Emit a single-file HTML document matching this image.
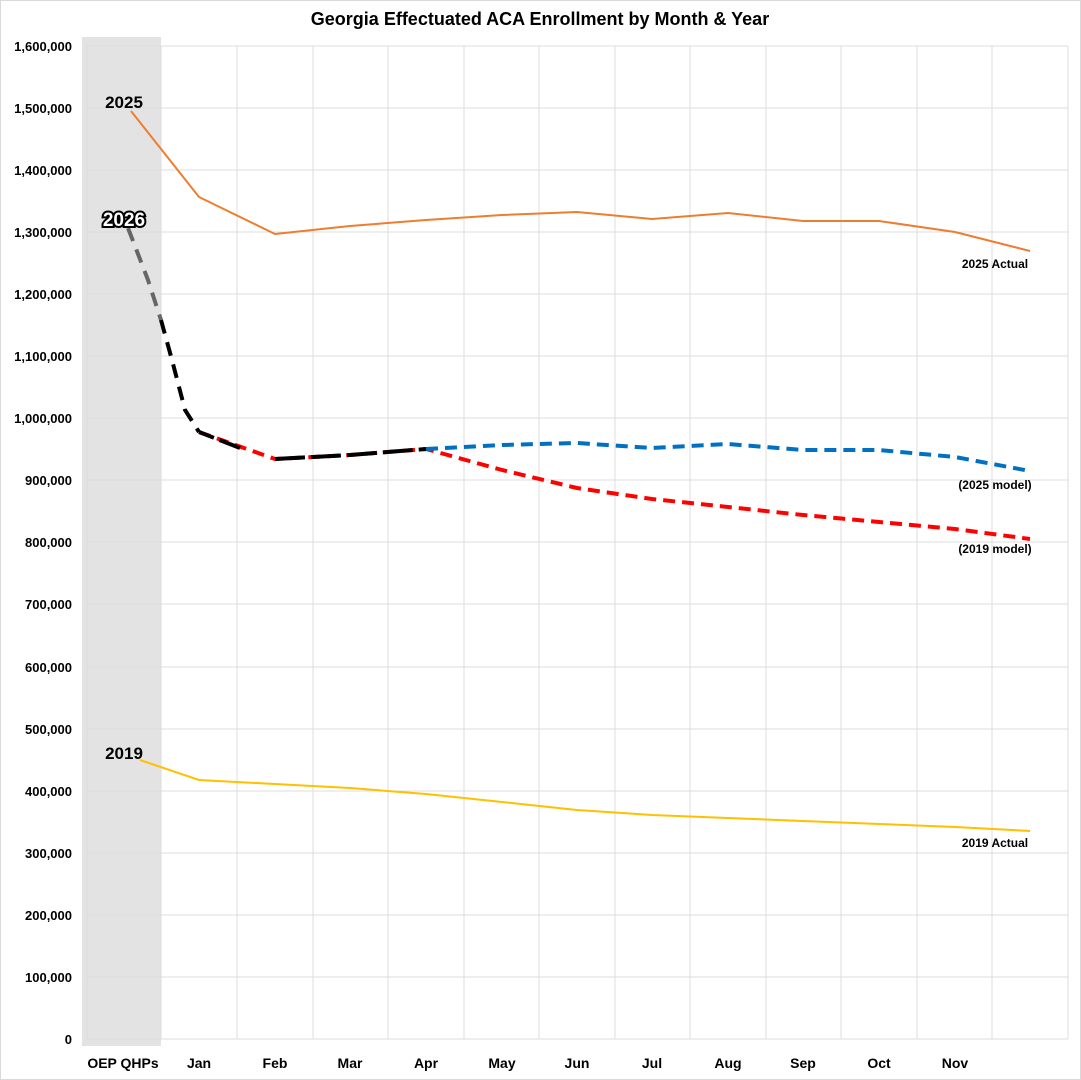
<!DOCTYPE html>
<html><head><meta charset="utf-8"><style>
body{margin:0;background:#fff;}
svg{display:block;font-family:"Liberation Sans",Arial,sans-serif;}
</style></head><body>
<svg width="1081" height="1080" viewBox="0 0 1081 1080">
<rect x="0.5" y="0.5" width="1080" height="1079" fill="#fff" stroke="#d9d9d9"/>
<text x="540" y="25" text-anchor="middle" font-size="18" font-weight="bold">Georgia Effectuated ACA Enrollment by Month &amp; Year</text>
<rect x="82" y="37" width="79" height="1009" fill="#e3e3e3"/>
<g stroke="#dcdcdc" stroke-width="1">
<line x1="87" y1="46" x2="1068" y2="46"/><line x1="87" y1="108" x2="1068" y2="108"/><line x1="87" y1="170" x2="1068" y2="170"/><line x1="87" y1="232" x2="1068" y2="232"/><line x1="87" y1="294" x2="1068" y2="294"/><line x1="87" y1="356" x2="1068" y2="356"/><line x1="87" y1="418" x2="1068" y2="418"/><line x1="87" y1="480" x2="1068" y2="480"/><line x1="87" y1="542" x2="1068" y2="542"/><line x1="87" y1="604" x2="1068" y2="604"/><line x1="87" y1="667" x2="1068" y2="667"/><line x1="87" y1="729" x2="1068" y2="729"/><line x1="87" y1="791" x2="1068" y2="791"/><line x1="87" y1="853" x2="1068" y2="853"/><line x1="87" y1="915" x2="1068" y2="915"/><line x1="87" y1="977" x2="1068" y2="977"/><line x1="87" y1="1039" x2="1068" y2="1039"/>
<line x1="87" y1="46" x2="87" y2="1039"/><line x1="161" y1="46" x2="161" y2="1039"/><line x1="237" y1="46" x2="237" y2="1039"/><line x1="313" y1="46" x2="313" y2="1039"/><line x1="388" y1="46" x2="388" y2="1039"/><line x1="464" y1="46" x2="464" y2="1039"/><line x1="539" y1="46" x2="539" y2="1039"/><line x1="615" y1="46" x2="615" y2="1039"/><line x1="690" y1="46" x2="690" y2="1039"/><line x1="766" y1="46" x2="766" y2="1039"/><line x1="841" y1="46" x2="841" y2="1039"/><line x1="917" y1="46" x2="917" y2="1039"/><line x1="992" y1="46" x2="992" y2="1039"/><line x1="1068" y1="46" x2="1068" y2="1039"/>
</g>
<g font-size="13" font-weight="bold" text-anchor="end">
<text x="72" y="51">1,600,000</text><text x="72" y="113">1,500,000</text><text x="72" y="175">1,400,000</text><text x="72" y="237">1,300,000</text><text x="72" y="299">1,200,000</text><text x="72" y="361">1,100,000</text><text x="72" y="423">1,000,000</text><text x="72" y="485">900,000</text><text x="72" y="547">800,000</text><text x="72" y="609">700,000</text><text x="72" y="672">600,000</text><text x="72" y="734">500,000</text><text x="72" y="796">400,000</text><text x="72" y="858">300,000</text><text x="72" y="920">200,000</text><text x="72" y="982">100,000</text><text x="72" y="1044">0</text>
</g>
<g font-size="14" font-weight="bold" text-anchor="middle">
<text x="123" y="1068">OEP QHPs</text><text x="199" y="1068">Jan</text><text x="275" y="1068">Feb</text><text x="350" y="1068">Mar</text><text x="426" y="1068">Apr</text><text x="502" y="1068">May</text><text x="577" y="1068">Jun</text><text x="652" y="1068">Jul</text><text x="728" y="1068">Aug</text><text x="803" y="1068">Sep</text><text x="879" y="1068">Oct</text><text x="955" y="1068">Nov</text>
</g>
<polyline fill="none" stroke="#ed7d31" stroke-width="2" points="131,111 199,197 275,234 350,226 426,220 502,215 577,212 652,219 728,213 803,221 879,221 955,232 1030,251"/>
<polyline fill="none" stroke="#ffc000" stroke-width="2" points="140,760 199,780 275,784 350,788 426,794 502,802 577,810 652,815 728,818 803,821 879,824 955,827 1030,831"/>
<polyline fill="none" stroke="#ff0000" stroke-width="4" stroke-dasharray="12,7" points="199,432 275,459 350,455 426,449 502,470 577,488 652,499 728,507 803,515 879,522 955,529 1030,539"/>
<polyline fill="none" stroke="#0070c0" stroke-width="4" stroke-dasharray="12,7" points="426,449 502,445 577,443 652,448 728,444 803,450 879,450 955,457 1030,471"/>
<polyline fill="none" stroke="#666" stroke-width="4" stroke-dasharray="14,9" points="128,228 148,280 161,320"/>
<polyline fill="none" stroke="#000" stroke-width="4" stroke-dasharray="14,9" points="161,320 172,360 185,410 199,432"/>
<polyline fill="none" stroke="#000" stroke-width="4" stroke-dasharray="22,6" stroke-dashoffset="6" points="199,432 240,448"/>
<polyline fill="none" stroke="#000" stroke-width="4" stroke-dasharray="30,6" points="275,459 350,455 426,449"/>
<g font-size="17" font-weight="bold" text-anchor="middle">
<text x="124" y="108">2025</text>
<text x="124" y="226" fill="#fff" stroke="#000" stroke-width="4" paint-order="stroke" font-size="19">2026</text>
<text x="124" y="759">2019</text>
</g>
<g font-size="12" font-weight="bold" text-anchor="middle">
<text x="995" y="268">2025 Actual</text><text x="995" y="489">(2025 model)</text><text x="995" y="553">(2019 model)</text><text x="995" y="847">2019 Actual</text>
</g>
</svg>
</body></html>
